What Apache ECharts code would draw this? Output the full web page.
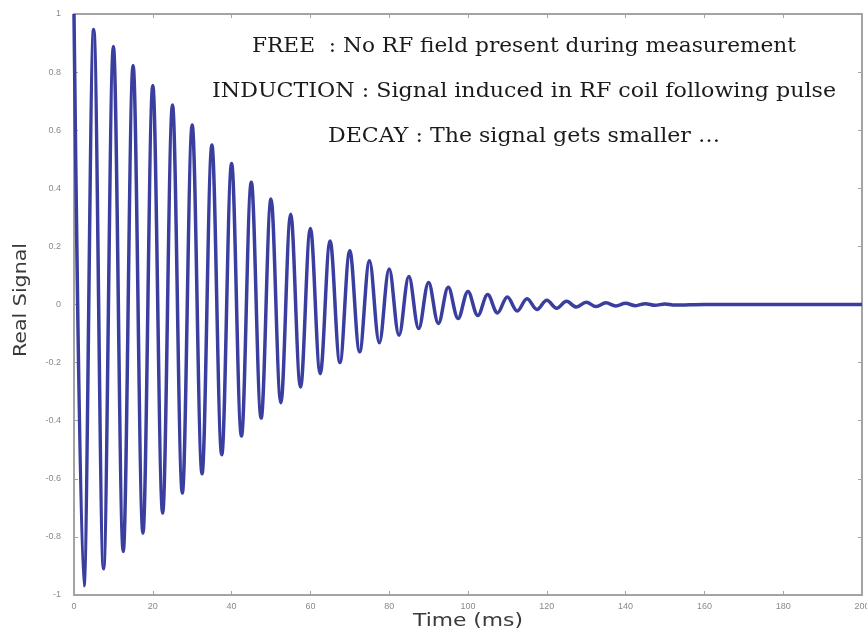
<!DOCTYPE html>
<html>
<head>
<meta charset="utf-8">
<title>Free induction decay</title>
<script src="https://cdn.jsdelivr.net/npm/echarts@6/dist/echarts.min.js"></script>
<style>
  html, body { margin: 0; padding: 0; background: #fff; }
  #chart { width: 867px; height: 636px; }
</style>
</head>
<body>
<div id="chart"></div>
<script>
// peaks of the signal (ms, value)
var peakTimes = [0, 5, 10, 15, 20, 25, 30, 35, 40, 45, 50, 55, 60, 65, 70, 75, 80, 85, 90, 95,
  100, 105, 110, 115, 120, 125, 130, 135, 140, 145, 150];
var peakVals = [1.0, 0.947, 0.888, 0.823, 0.754, 0.687, 0.618, 0.549, 0.485, 0.421, 0.363, 0.311,
  0.262, 0.219, 0.185, 0.151, 0.122, 0.096, 0.076, 0.059, 0.045, 0.034, 0.026, 0.02, 0.015,
  0.011, 0.008, 0.006, 0.004, 0.003, 0.002];
// troughs
var troughTimes = [2.5, 7.5, 12.5, 17.5, 22.5, 27.5, 32.5, 37.5, 42.5, 47.5, 52.5, 57.5, 62.5,
  67.5, 72.5, 77.5, 82.5, 87.5, 92.5, 97.5, 102.5, 107.5, 112.5, 117.5, 122.5, 127.5, 132.5,
  137.5, 142.5, 147.5, 152.5];
var troughVals = [-0.968, -0.91, -0.85, -0.787, -0.718, -0.649, -0.583, -0.517, -0.453, -0.391,
  -0.338, -0.284, -0.238, -0.2, -0.163, -0.132, -0.106, -0.083, -0.065, -0.048, -0.038, -0.029,
  -0.022, -0.017, -0.013, -0.009, -0.007, -0.005, -0.004, -0.003, -0.002];
// flat tail
var tailTimes = [160, 200];
var tailVals = [0, 0];

var notes = [
  'FREE  : No RF field present during measurement',
  'INDUCTION : Signal induced in RF coil following pulse',
  'DECAY : The signal gets smaller \u2026'
];

// merge peaks and troughs into one line
var signal = [];
for (var i = 0; i < peakTimes.length; i++) {
  signal.push([peakTimes[i], peakVals[i]]);
  signal.push([troughTimes[i], troughVals[i]]);
}
for (var j = 0; j < tailTimes.length; j++) {
  signal.push([tailTimes[j], tailVals[j]]);
}

// the reference text is a bit stretched, fit each text to its width
var cv = document.createElement('canvas').getContext('2d');
function fitScale(text, size, family, target) {
  cv.font = size + 'px ' + family;
  return target / cv.measureText(text).width;
}

var serif = '"DejaVu Serif"';
var sans = '"DejaVu Sans"';
var noteBoxes = [[524, 47, 544], [524, 92, 624], [524, 137, 392]];  // centre x, y, width

var graphics = notes.map(function (t, k) {
  return {
    type: 'text', x: noteBoxes[k][0], y: noteBoxes[k][1],
    scaleX: fitScale(t, 20, serif, noteBoxes[k][2]),
    style: { text: t, fontSize: 20, fontFamily: serif, fill: '#1a1a1a', align: 'center', verticalAlign: 'middle' }
  };
});
graphics.push({
  type: 'text', x: 468, y: 622,
  scaleX: fitScale('Time (ms)', 17, sans, 110),
  style: { text: 'Time (ms)', fontSize: 17, fontFamily: sans, fill: '#3a3a3a', align: 'center', verticalAlign: 'middle' }
});
graphics.push({
  type: 'text', x: 22, y: 300, rotation: Math.PI / 2,
  scaleX: fitScale('Real Signal', 17, sans, 114),
  style: { text: 'Real Signal', fontSize: 17, fontFamily: sans, fill: '#3a3a3a', align: 'center', verticalAlign: 'middle' }
});

var frame = { show: true, onZero: false, lineStyle: { color: '#a3a3a3', width: 2 } };
var tick = { show: true, inside: true, length: 4, lineStyle: { color: '#a3a3a3' } };
var lbl = { fontSize: 9, color: '#8a8a8a', fontFamily: '"Liberation Sans"' };

var chart = echarts.init(document.getElementById('chart'));
chart.setOption({
  animation: false,
  backgroundColor: '#fff',
  grid: { left: 74, right: 5, top: 14, bottom: 41, outerBoundsMode: 'none' },
  xAxis: [
    { type: 'value', position: 'bottom', min: 0, max: 200, interval: 20,
      axisLine: frame, axisTick: tick, axisLabel: Object.assign({ margin: 7 }, lbl), splitLine: { show: false } },
    { type: 'value', position: 'top', min: 0, max: 200, interval: 20,
      axisLine: frame, axisTick: tick, axisLabel: { show: false }, splitLine: { show: false } }
  ],
  yAxis: [
    { type: 'value', position: 'left', min: -1, max: 1, interval: 0.2,
      axisLine: frame, axisTick: tick, axisLabel: Object.assign({ margin: 13 }, lbl), splitLine: { show: false } },
    { type: 'value', position: 'right', min: -1, max: 1, interval: 0.2,
      axisLine: frame, axisTick: tick, axisLabel: { show: false }, splitLine: { show: false } }
  ],
  graphic: graphics,
  series: [{
    type: 'line',
    data: signal,
    smooth: 0.36,
    showSymbol: false,
    lineStyle: { color: '#3a3f9f', width: 3.5 },
    z: 3
  }]
});
</script>
</body>
</html>
